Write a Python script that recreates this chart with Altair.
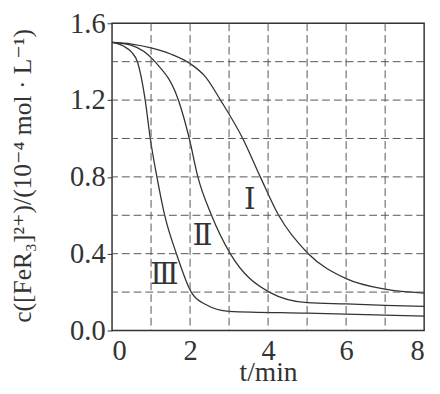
import altair as alt
import pandas as pd

# Curve data
t_I = [0, 0.5, 1.0, 1.5, 2.0, 2.4, 2.78, 3.35, 3.8, 4.27, 5.03, 6.0, 7.0, 8.0]
c_I = [1.5, 1.492, 1.472, 1.44, 1.39, 1.32, 1.2, 1.0, 0.8, 0.6, 0.4, 0.27, 0.215, 0.195]

t_II = [0, 0.5, 1.1, 1.7, 1.98, 2.2, 2.55, 3.03, 4.03, 5.0, 6.0, 7.0, 8.0]
c_II = [1.5, 1.485, 1.4, 1.2, 1.0, 0.8, 0.6, 0.4, 0.2, 0.145, 0.138, 0.131, 0.125]

t_III = [0, 0.3, 0.5, 0.65, 0.85, 0.98, 1.15, 1.35, 1.65, 2.03, 2.4, 3.0, 5.0, 8.0]
c_III = [1.5, 1.48, 1.45, 1.4, 1.2, 1.0, 0.8, 0.6, 0.4, 0.2, 0.135, 0.1, 0.09, 0.075]

labels = ["Ⅰ", "Ⅱ", "Ⅲ"]
label_t = [3.53, 2.32, 1.34]
label_c = [0.68, 0.49, 0.29]

x_ticks = [0, 2, 4, 6, 8]
y_ticks = [0.0, 0.4, 0.8, 1.2, 1.6]
x_grid = [1, 2, 3, 4, 5, 6, 7]
y_grid = [0.2, 0.4, 0.6, 0.8, 1.0, 1.2, 1.4]

rows = []
for name, ts, cs in (("I", t_I, c_I), ("II", t_II, c_II), ("III", t_III, c_III)):
    for t, c in zip(ts, cs):
        rows.append({"curve": name, "t": t, "c": c})
curves = pd.DataFrame(rows)
lab_df = pd.DataFrame({"label": labels, "t": label_t, "c": label_c})
xg = pd.DataFrame({"t": x_grid})
yg = pd.DataFrame({"c": y_grid})

FONT = "Liberation Serif, Times New Roman, DejaVu Serif, serif"
INK = "#333333"

xs = alt.Scale(domain=[0, 8], nice=False)
ys = alt.Scale(domain=[0, 1.6], nice=False)

x_axis = alt.Axis(values=x_ticks, format="d", grid=False, ticks=False, domain=False,
                  labelPadding=7, title="t/min", titleBaseline="alphabetic", titleY=51)
y_axis = alt.Axis(values=y_ticks, format=".1f", grid=False, ticks=True, tickSize=5,
                  domain=False, labelPadding=2,
                  title="c([FeR₃]²⁺)/(10⁻⁴ mol · L⁻¹)",
                  titleX=-91, titleY=155, titleBaseline="middle", titleAlign="center",
                  titleAngle=-90)

dash = [8, 4]
lines = alt.Chart(curves).mark_line(color=INK, strokeWidth=1.3, interpolate="monotone").encode(
    x=alt.X("t:Q", scale=xs, axis=x_axis),
    y=alt.Y("c:Q", scale=ys, axis=y_axis),
    detail="curve:N",
)
vgrid = alt.Chart(xg).mark_rule(color="#555555", strokeDash=dash, strokeWidth=1).encode(
    x=alt.X("t:Q", scale=xs))
hgrid = alt.Chart(yg).mark_rule(color="#555555", strokeDash=dash, strokeWidth=1).encode(
    y=alt.Y("c:Q", scale=ys))

text = alt.Chart(lab_df).mark_text(font=FONT, fontSize=30, color=INK, baseline="middle",
                                   align="center").encode(
    x=alt.X("t:Q", scale=xs), y=alt.Y("c:Q", scale=ys), text="label:N")

chart = alt.layer(lines, vgrid, hgrid, text).properties(
    width=318, height=313,
    autosize=alt.AutoSizeParams(type="none"),
    padding={"left": 106, "top": 12, "right": 8, "bottom": 53},
    background="white",
).configure_view(
    stroke=INK, strokeWidth=1.5
).configure_axis(
    labelFont=FONT, labelFontSize=29, labelColor=INK,
    titleFont=FONT, titleFontWeight="normal", titleColor=INK,
    tickColor=INK,
).configure_axisX(
    titleFontSize=28
).configure_axisY(
    titleFontSize=26
)

chart.save("out.html", embed_options={"renderer": "svg", "actions": False})
